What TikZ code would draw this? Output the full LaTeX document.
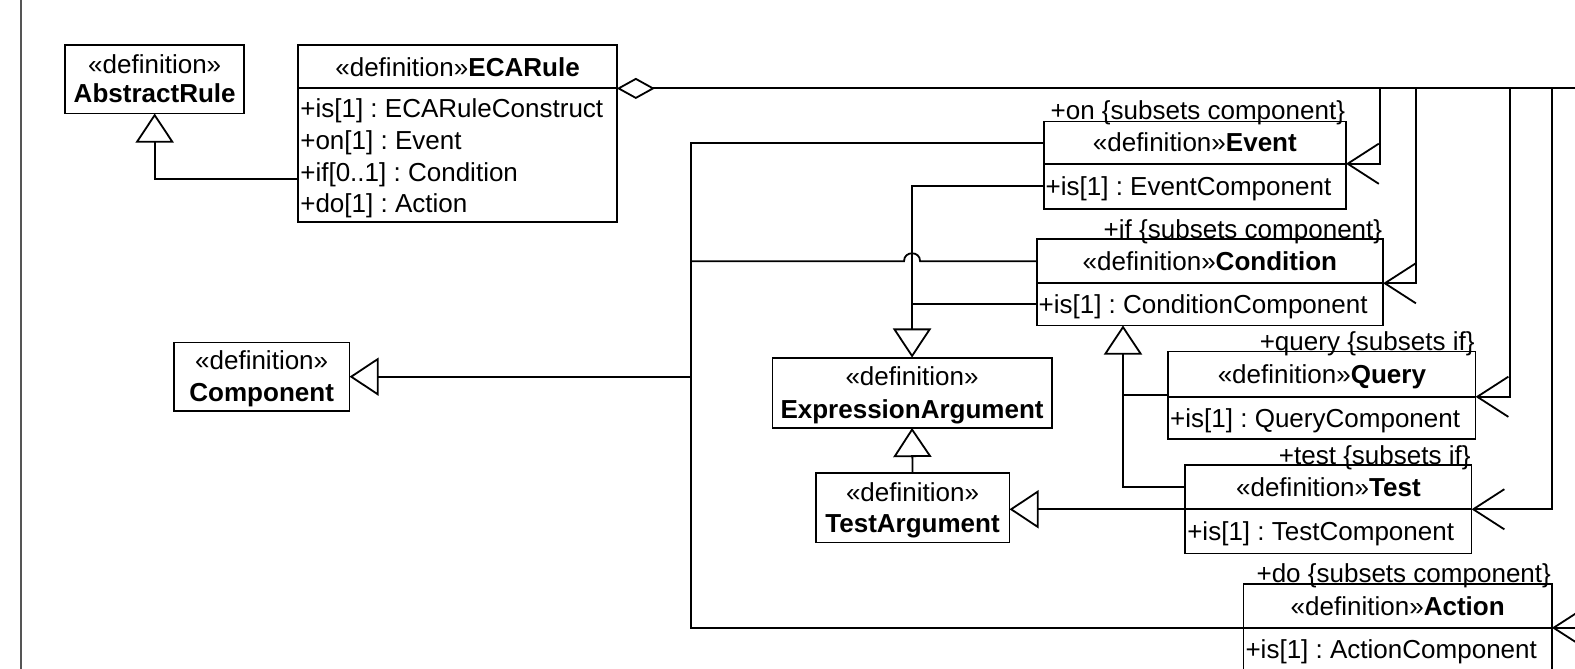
\documentclass[tikz,border=0pt]{standalone}
\usepackage{fontspec}
\setmainfont{Liberation Sans}
\usetikzlibrary{arrows.meta,fit,calc}
\newcommand\umlfont{\fontsize{12.95pt}{15.8pt}\selectfont}
\definecolor{edgegray}{RGB}{85,85,85}
\frenchspacing
\begin{document}
\begin{tikzpicture}[x=0.5pt,y=-0.5pt,line width=0.9pt,
  every node/.style={inner sep=0pt,outer sep=0pt},
  box/.style={draw,inner sep=0pt},
  txt/.style={font=\umlfont,text height=9.27pt,text depth=0pt},
  attr/.style={txt,anchor=west},
  lbl/.style={font=\umlfont,anchor=base east},
  gen/.style={-{Triangle[open,length=14.5pt,width=19pt]}},
  nav/.style={-{Straight Barb[length=15.5pt,width=20pt]}},
  agg/.style={{Diamond[open,length=19pt,width=10.5pt]}-}]
\useasboundingbox (0,0) rectangle (1568,666);
\clip (0,0) rectangle (1568,666);

% left edge of the frame
\draw[edgegray,line width=1pt] (20.5,0) -- (20.5,666);

% AbstractRule
\node[box,fit={(65,45)(243,113)}] (abstract) {};
\node[txt] (abstractS) at (154,64) {«definition»};
\node[txt] (abstractN) at (154,93) {\textbf{AbstractRule}};

% ECARule
\node[box,fit={(297,45)(614,88)}] (ecaT) {};
\node[box,fit={(297,88)(614,221)}] (ecaA) {};
\node[txt] (ecaN) at (ecaT.center) {«definition»\textbf{ECARule}};
\node[attr] (ecaIs) at (299,108) {+is[1] : ECARuleConstruct};
\node[attr] (ecaOn) at (299,139.5) {+on[1] : Event};
\node[attr] (ecaIf) at (299,171) {+if[0..1] : Condition};
\node[attr] (ecaDo) at (299,202.5) {+do[1] : Action};

% Event
\node[box,fit={(1039,121)(1340,163)}] (eventT) {};
\node[box,fit={(1039,163)(1340,208)}] (eventA) {};
\node[txt] (eventN) at (eventT.center) {«definition»\textbf{Event}};
\node[attr] (eventIs) at ([xshift=1pt]eventA.west) {+is[1] : EventComponent};
\node[lbl] (eventR) at (1339,119) {+on \{subsets component\}};

% Condition
\node[box,fit={(1032,238)(1377,282)}] (condT) {};
\node[box,fit={(1032,282)(1377,324)}] (condA) {};
\node[txt] (condN) at (condT.center) {«definition»\textbf{Condition}};
\node[attr] (condIs) at ([xshift=1pt]condA.west) {+is[1] : ConditionComponent};
\node[lbl] (condR) at (1376,237) {+if \{subsets component\}};

% Query
\node[box,fit={(1163,350)(1469,395)}] (queryT) {};
\node[box,fit={(1163,395)(1469,437)}] (queryA) {};
\node[txt] (queryN) at (queryT.center) {«definition»\textbf{Query}};
\node[attr] (queryIs) at ([xshift=1pt]queryA.west) {+is[1] : QueryComponent};
\node[lbl] (queryR) at (1468,349) {+query \{subsets if\}};

% Test
\node[box,fit={(1180,463)(1465,507)}] (testT) {};
\node[box,fit={(1180,507)(1465,551)}] (testA) {};
\node[txt] (testN) at (testT.center) {«definition»\textbf{Test}};
\node[attr] (testIs) at ([xshift=1pt]testA.west) {+is[1] : TestComponent};
\node[lbl] (testR) at (1464,462) {+test \{subsets if\}};

% Action
\node[box,fit={(1238,581)(1545,625)}] (actionT) {};
\node[box,fit={(1238,625)(1545,720)}] (actionA) {};
\node[txt] (actionN) at (actionT.center) {«definition»\textbf{Action}};
\node[attr] (actionIs) at (1240,646) {+is[1] : ActionComponent};
\node[lbl] (actionR) at (1544,580) {+do \{subsets component\}};

% Component
\node[box,fit={(173,341)(348,409)}] (component) {};
\node[txt] (componentS) at (260.5,359) {«definition»};
\node[txt] (componentN) at (260.5,390) {\textbf{Component}};

% ExpressionArgument
\node[box,fit={(769,356)(1047,426)}] (exprArg) {};
\node[txt] (exprArgS) at (908,375) {«definition»};
\node[txt] (exprArgN) at (908,407) {\textbf{ExpressionArgument}};

% TestArgument
\node[box,fit={(812,471)(1005,540)}] (testArg) {};
\node[txt] (testArgS) at (908.5,490) {«definition»};
\node[txt] (testArgN) at (908.5,521) {\textbf{TestArgument}};

% ECARule specialises AbstractRule
\coordinate (ecaGen) at (297,178);
\draw[gen] (ecaGen) -| (abstract.south);

% composition bus from ECARule to its parts
\coordinate (busEnd) at (1600,88);
\draw[agg] (ecaT.south east) -- (busEnd);
\coordinate (tapE) at (1374,88);
\coordinate (tapC) at (1410,88);
\coordinate (tapQ) at (1503,88);
\coordinate (tapT) at (1545,88);
\coordinate (tapA) at (1600,625);
\draw[nav] (tapE) |- (eventT.south east);
\draw[nav] (tapC) |- (condT.south east);
\draw[nav] (tapQ) |- (queryT.south east);
\draw[nav] (tapT) |- (testT.south east);
\draw[nav] (tapA) -- (actionT.south east);

% Component generalisation trunk
\coordinate (trunk) at (688,375);
\draw (eventT.west) -| (trunk |- actionT.south west) -- (actionT.south west);
\draw (condT.west) -- (916,260) .. controls (916,249.5) and (900,249.5) .. (900,260) -- (trunk |- condT.west);
\draw[gen] (trunk) -- (component.east);

% ExpressionArgument generalisations
\draw[gen] (eventA.west) -| (exprArg.north);
\draw (condA.west) -- (condA.west -| exprArg.north);
\draw[gen] (testArg.north) -- (exprArg.south);
\draw[gen] (testT.south west) -- (testT.south west -| testArg.east);

% Query and Test specialise Condition
\coordinate (condGen) at (1118,324);
\draw[gen] (testT.west) -| (condGen);
\draw ([yshift=1pt]queryT.south west) -- ([yshift=1pt]queryT.south west -| condGen);
\end{tikzpicture}
\end{document}
